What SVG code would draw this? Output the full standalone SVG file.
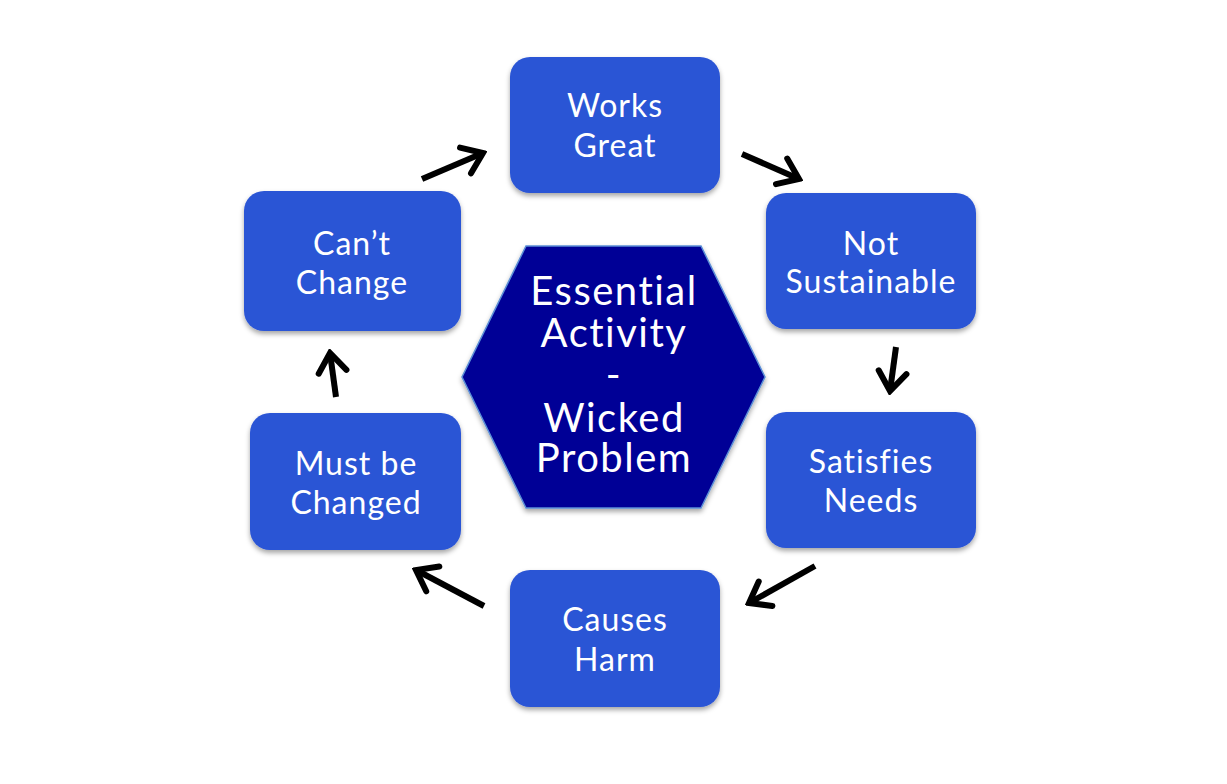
<svg xmlns="http://www.w3.org/2000/svg" width="1227" height="784" viewBox="0 0 1227 784">
<style>
.box{fill:#2B55D5;filter:url(#sh);}
.t{font-family:Lato,"Open Sans","Liberation Sans",sans-serif;fill:#fff;text-anchor:middle;font-size:32px;letter-spacing:1px;}
.th{font-family:Lato,"Open Sans","Liberation Sans",sans-serif;fill:#fff;text-anchor:middle;font-size:40px;letter-spacing:1.5px;}
.arr{stroke:#000;stroke-width:6;fill:none;marker-end:url(#ah);}
</style>
<defs>
<filter id="sh" x="-10%" y="-10%" width="120%" height="130%">
<feDropShadow dx="0" dy="3" stdDeviation="2.5" flood-color="#000" flood-opacity="0.35"/>
</filter>
<marker id="ah" markerUnits="userSpaceOnUse" viewBox="-26 -20 30 40" refX="0" refY="0" markerWidth="30" markerHeight="40" orient="auto">
<path d="M-19,-14 L0,0 L-19,14" fill="none" stroke="#000" stroke-width="6" stroke-linecap="round"/>
</marker>
</defs>
<rect width="1227" height="784" fill="#fff"/>
<g id="center">
<polygon points="526,246 701,246 765,377 701,508 526,508 462,377" fill="#000096" stroke="#5b8fd6" stroke-width="1.5" filter="url(#sh)"/>
<text class="th" x="614" y="305">Essential</text>
<text class="th" x="614" y="347">Activity</text>
<text class="th" x="614" y="389">-</text>
<text class="th" x="614" y="432">Wicked</text>
<text class="th" x="614" y="472">Problem</text>
</g>
<g id="works-great">
<rect class="box" x="510" y="57" width="210" height="136" rx="20"/>
<text class="t" x="615" y="117">Works</text>
<text class="t" x="615" y="157">Great</text>
</g>
<g id="not-sustainable">
<rect class="box" x="766" y="193" width="210" height="136" rx="20"/>
<text class="t" x="871" y="255">Not</text>
<text class="t" x="871" y="293">Sustainable</text>
</g>
<g id="satisfies-needs">
<rect class="box" x="766" y="412" width="210" height="136" rx="20"/>
<text class="t" x="871" y="473">Satisfies</text>
<text class="t" x="871" y="512">Needs</text>
</g>
<g id="causes-harm">
<rect class="box" x="510" y="570" width="210" height="137" rx="20"/>
<text class="t" x="615" y="631">Causes</text>
<text class="t" x="615" y="671">Harm</text>
</g>
<g id="must-be-changed">
<rect class="box" x="250" y="413" width="211" height="137" rx="20"/>
<text class="t" x="356" y="475">Must be</text>
<text class="t" x="356" y="514">Changed</text>
</g>
<g id="cant-change">
<rect class="box" x="244" y="191" width="217" height="140" rx="20"/>
<text class="t" x="352" y="255">Can’t</text>
<text class="t" x="352" y="294">Change</text>
</g>
<g id="connectors">
<line class="arr" x1="422" y1="179" x2="483" y2="153"/>
<line class="arr" x1="742" y1="154" x2="799" y2="179"/>
<line class="arr" x1="896" y1="347" x2="890" y2="391"/>
<line class="arr" x1="815" y1="566" x2="749" y2="603"/>
<line class="arr" x1="484" y1="606" x2="416" y2="570"/>
<line class="arr" x1="336" y1="397" x2="330" y2="353"/>
</g>
</svg>
